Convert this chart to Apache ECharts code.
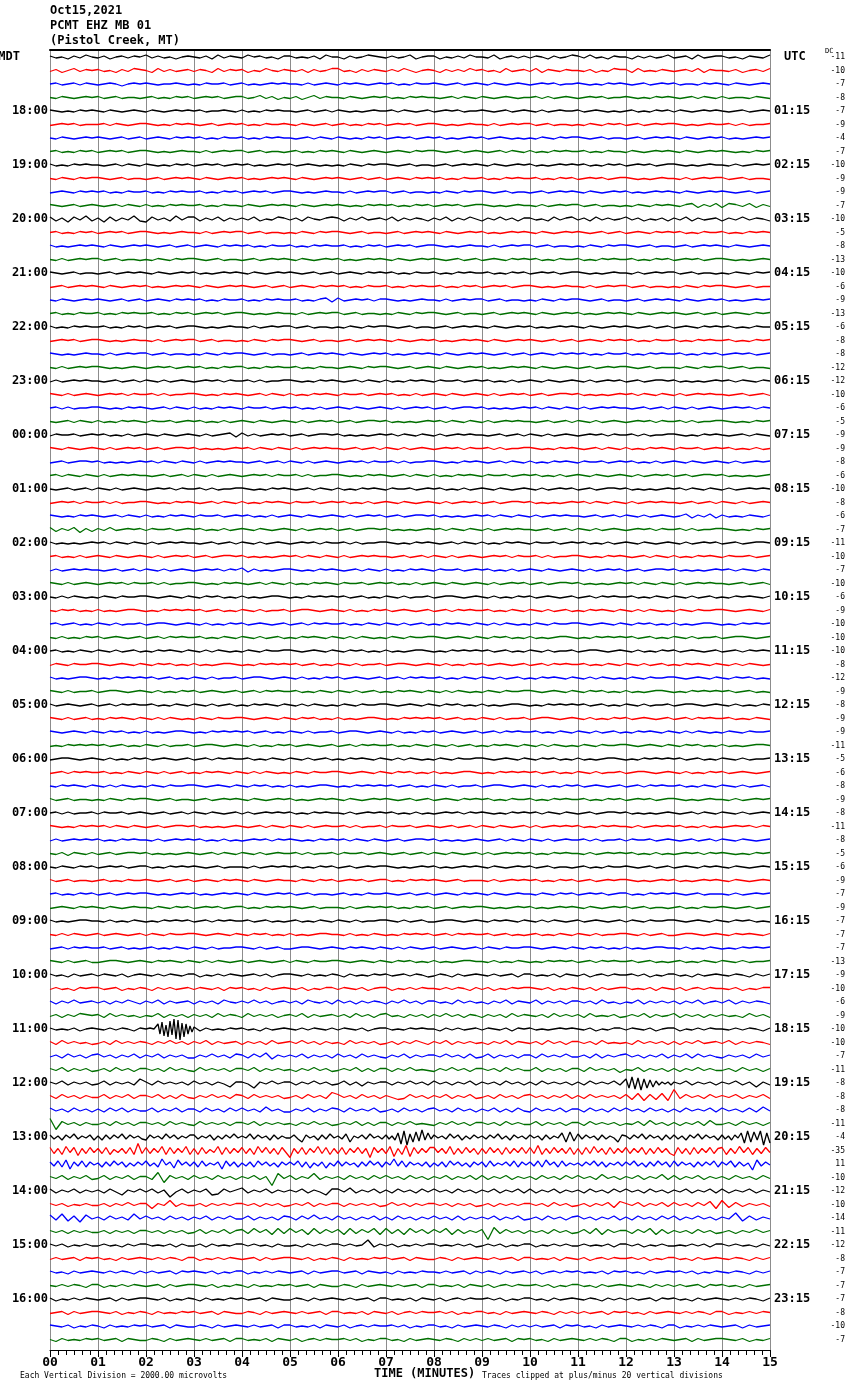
<!DOCTYPE html>
<html><head><meta charset="utf-8">
<script src="https://cdn.jsdelivr.net/npm/echarts@6/dist/echarts.min.js"></script>
<style>html,body{margin:0;padding:0;background:#fff}#c{width:850px;height:1390px}</style>
</head><body><div id="c"></div>
<script>
// ---- data ----
const minuteLabels = ['00','01','02','03','04','05','06','07','08','09','10','11','12','13','14','15'];
const mdtLabels = ['MDT','18:00','19:00','20:00','21:00','22:00','23:00','00:00','01:00','02:00','03:00','04:00','05:00','06:00','07:00','08:00','09:00','10:00','11:00','12:00','13:00','14:00','15:00','16:00'];
const utcLabels = ['UTC','01:15','02:15','03:15','04:15','05:15','06:15','07:15','08:15','09:15','10:15','11:15','12:15','13:15','14:15','15:15','16:15','17:15','18:15','19:15','20:15','21:15','22:15','23:15'];
const dcValues = [-11,-10,-7,-8,-7,-9,-4,-7,-10,-9,-9,-7,-10,-5,-8,-13,-10,-6,-9,-13,-6,-8,-8,-12,-12,-10,-6,-5,-9,-9,-8,-6,-10,-8,-6,-7,-11,-10,-7,-10,-6,-9,-10,-10,-10,-8,-12,-9,-8,-9,-9,-11,-5,-6,-8,-9,-8,-11,-8,-5,-6,-9,-7,-9,-7,-7,-7,-13,-9,-10,-6,-9,-10,-10,-7,-11,-8,-8,-8,-11,-4,-35,11,-10,-12,-10,-14,-11,-12,-8,-7,-7,-7,-8,-10,-7];
const traceColors = ['#000000','#ff0000','#0000ff','#006f00'];
// one string per 15-min line; space-separated groups = one minute each;
// chars: 0-9 => +0..+9 px (up), a-m => -1..-13 px (down), A-C => +10..+12
const traces = [
"1a0b1a20 a1b01a10 2a1a0b01 0a1b2a10 a201a0b1 1a0a1b20 0b1a0210 a1a02b01 1b0a1a20 0a2b01a1 a10b1a02 1a2a0b10 0b1a1a02 a01b2a01 1a0b10a2",
"a1b02a10 1a0b1a21 0b2a1a01 a10b2a10 1b0a20a1 0a1b1a02 2a0b1a10 a1a20b01 0b1a1a20 1a0b2a01 a2b10a10 0a1b0a21 1b2a0a10 a01a2b10 0a1b01a2",
"01a01a10 a010b010 10a0010a 0a1001a0 1a0a0101 00a1a010 a1010a01 01a0a100 10a01a01 0a10a010 a0101a00 10a0a101 0a01a010 1a00a101 0a10a010",
"0a10a010 1a01a00a 01a0a101 a0101a01 1a02a1b0 a1b02a10 0a10a010 1a0a1010 0a01a10a 10a010a0 01a1a010 a0101a00 10a0a101 0a01a10a 1a00a10a",
"10a0a101 0a10a010 a10a0101 01a0010a 1a0a1010 0a01a01a 10a0a010 01a10a01 a0101a00 10a01a01 0a1a0100 1a010a0a 01a0a101 a10a0101 0a01a010",
"a0101a00 01a10a01 10a0a101 0a01a010 1a0a1001 0a10a01a 01a0a101 a0101a01 10a0a010 0a1a0101 1a01a00a 0a10a101 a01a0101 10a0a010 01a1a001",
"0a10a010 10a01a01 a010a101 01a0a100 1a0a1010 0a01a10a 10a0a101 a0101a01 01a0a010 1a010a0a 0a10a101 10a01a00 a01a0101 0a10a010 1a0a0101",
"01a0a101 a0101a01 10a0a010 0a1a0101 1a01a00a 01a0a101 0a10a010 a010a101 10a01a01 0a01a10a 1a0a1010 01a0a100 a10a0101 0a10a010 10a0a101",
"1a0a1010 0a01a10a 10a0a101 a0101a01 01a0a010 1a010a0a 0a10a101 10a01a00 a01a0101 0a10a010 1a0a0101 01a0a101 a0101a01 10a0a010 0a1a0101",
"0a10a101 10a01a00 a01a0101 0a10a010 1a0a0101 0a10a010 10a01a01 a010a101 01a0a100 1a0a1010 01a0a101 a0101a01 10a0a010 0a1a0101 1a01a00a",
"a010a101 01a0a100 1a0a1010 01a0a101 a0101a01 10a0a010 0a1a0101 1a01a00a 0a10a101 10a01a00 a01a0101 0a10a010 1a0a0101 0a10a010 10a01a01",
"10a01a01 0a01a10a 1a0a1010 01a0a100 a10a0101 0a10a010 10a0a101 01a0a101 a0101a01 10a0a010 0a1a0101 1a01a00a 0a10a101 0a12b1a2 b21a2b1a",
"2b1c2a3b 1c2b1a3b c2a1b3a2 2b1a2b1a 1a2b0a21 a1b20a12 1b1a2a01 a2b1a10b 1a2b1a20 b1a2a1b1 1a0b2a12 a1b2a1a0 2a1b0a1b 1a2b1a01 b1a2a10b",
"01a0a101 a0101a01 10a0a010 0a1a0101 1a01a00a 0a10a101 10a01a00 a01a0101 0a10a010 1a0a0101 0a10a010 10a01a01 a010a101 01a0a100 1a0a1010",
"1a0a0101 0a10a010 10a01a01 a010a101 01a0a100 1a0a1010 01a0a101 a0101a01 10a0a010 0a1a0101 1a01a00a 0a10a101 10a01a00 a01a0101 0a10a010",
"0a1a0101 1a01a00a 0a10a101 10a01a00 a01a0101 0a10a010 1a0a0101 0a10a010 10a01a01 a010a101 01a0a100 1a0a1010 01a0a101 a0101a01 10a0a010",
"10a01a00 a01a0101 0a10a010 1a0a0101 0a10a010 10a01a01 a010a101 01a0a100 1a0a1010 01a0a101 a0101a01 10a0a010 0a1a0101 1a01a00a 0a10a101",
"a01a0101 0a10a010 1a0a0101 0a10a010 10a01a01 a010a101 01a0a100 1a0a1010 01a0a101 a0101a01 10a0a010 0a1a0101 1a01a00a 0a10a101 10a01a00",
"0a10a010 10a01a01 a010a101 01a0a100 1a0a1010 01a0a12b 2a0101a1 10a0a010 0a1a0101 1a01a00a 0a10a101 10a01a00 a01a0101 0a10a010 1a0a0101",
"01a0a100 1a0a1010 01a0a101 a0101a01 10a0a010 0a1a0101 1a01a00a 0a10a101 10a01a00 a01a0101 0a10a010 1a0a0101 0a10a010 10a01a01 a010a101",
"1a0a1010 01a0a101 a0101a01 10a0a010 0a1a0101 1a01a00a 0a10a101 10a01a00 a01a0101 0a10a010 1a0a0101 0a10a010 10a01a01 a010a101 01a0a100",
"a0101a01 10a0a010 0a1a0101 1a01a00a 0a10a101 10a01a00 a01a0101 0a10a010 1a0a0101 0a10a010 10a01a01 a010a101 01a0a100 1a0a1010 01a0a101",
"10a0a010 0a1a0101 1a01a00a 0a10a101 10a01a00 a01a0101 0a10a010 1a0a0101 0a10a010 10a01a01 a010a101 01a0a100 1a0a1010 01a0a101 a0101a01",
"0a1a0101 10a0a010 a0101a01 01a0a101 1a0a1010 01a0a100 a010a101 10a01a01 0a10a010 1a0a0101 0a10a010 a01a0101 10a01a00 0a10a101 1a01a00a",
"a1a01010 0a01a01a 10a1a010 a0101a10 01a1a001 10a0a101 0a01a10a 1a0a1010 a1001a01 01a0a1a0 10a10a01 0a1a0101 a01a0110 1a0a0a01 01a10a10",
"10a1a010 a0101a10 01a1a001 10a0a101 0a01a10a 1a0a1010 a1001a01 01a0a1a0 10a10a01 0a1a0101 a01a0110 1a0a0a01 01a10a10 a1a01010 0a01a01a",
"01a1a001 10a0a101 0a01a10a 1a0a1010 a1001a01 01a0a1a0 10a10a01 0a1a0101 a01a0110 1a0a0a01 01a10a10 a1a01010 0a01a01a 10a1a010 a0101a10",
"0a01a10a 1a0a1010 a1001a01 01a0a1a0 10a10a01 0a1a0101 a01a0110 1a0a0a01 01a10a10 a1a01010 0a01a01a 10a1a010 a0101a10 01a1a001 10a0a101",
"a1001a01 01a0a1a0 10a10a01 0a1a012b 2a1a0101 a01a0110 1a0a0a01 01a10a10 a1a01010 0a01a01a 10a1a010 a0101a10 01a1a001 10a0a101 0a01a10a",
"10a10a01 0a1a0101 a01a0110 1a0a0a01 01a10a10 a1a01010 0a01a01a 10a1a010 a0101a10 01a1a001 10a0a101 0a01a10a 1a0a1010 a1001a01 01a0a1a0",
"a01a0110 1a0a0a01 01a10a10 a1a01010 0a01a01a 10a1a010 a0101a10 01a1a001 10a0a101 0a01a10a 1a0a1010 a1001a01 01a0a1a0 10a10a01 0a1a0101",
"01a10a10 a1a01010 0a01a01a 10a1a010 a0101a10 01a1a001 10a0a101 0a01a10a 1a0a1010 a1001a01 01a0a1a0 10a10a01 0a1a0101 a01a0110 1a0a0a01",
"0a01a01a 10a1a010 a0101a10 01a1a001 10a0a101 0a01a10a 1a0a1010 a1001a01 01a0a1a0 10a10a01 0a1a0101 a01a0110 1a0a0a01 01a10a10 a1a01010",
"a0101a10 01a1a001 10a0a101 0a01a10a 1a0a1010 a1001a01 01a0a1a0 10a10a01 0a1a0101 a01a0110 1a0a0a01 01a10a10 a1a01010 0a01a01a 10a1a010",
"10a0a101 0a01a10a 1a0a1010 a1001a01 01a0a1a0 10a10a01 0a1a0101 a01a0110 1a0a0a01 01a10a10 a1a01010 0a01a01a 10a1a010 a02b1a2b 1a0a10a1",
"2b1a2c1b 1a2a0101 a1001a01 01a0a1a0 10a10a01 0a1a0101 a01a0110 1a0a0a01 01a10a10 a1a01010 0a01a01a 10a1a010 a0101a10 01a1a001 10a0a101",
"1a0a0a01 01a10a10 a1a01010 0a01a01a 10a1a010 a0101a10 01a1a001 10a0a101 0a01a10a 1a0a1010 a1001a01 01a0a1a0 10a10a01 0a1a0101 a01a0110",
"01a0a1a0 10a10a01 0a1a0101 a01a0110 1a0a0a01 01a10a10 a1a01010 0a01a01a 10a1a010 a0101a10 01a1a001 10a0a101 0a01a10a 1a0a1010 a1001a01",
"a1a01010 0a01a01a 10a1a010 a0101a10 2b1a0a01 10a0a101 0a01a10a 1a0a1010 a1001a01 01a0a1a0 10a10a01 0a1a0101 a01a0110 1a0a0a01 01a10a10",
"10a1a010 a0101a10 01a1a001 10a0a101 0a01a10a 1a0a1010 a1001a01 01a0a1a0 10a10a01 0a1a0101 a01a0110 1a0a0a01 01a10a10 a1a01010 0a01a01a",
"0a1a10a0 a10a1001 10a010a1 0a101a0a 1a0a0110 a0a10101 01a01a0a 10a1a001 a0110a01 0a1a0a10 1a010a01 a01a1010 01a0a10a 10a1a01a 0a1010a1",
"0a101a0a 1a0a0110 a0a10101 01a01a0a 10a1a001 a0110a01 0a1a0a10 1a010a01 a01a1010 01a0a10a 10a1a01a 0a1010a1 0a1a10a0 a10a1001 10a010a1",
"01a01a0a 10a1a001 a0110a01 0a1a0a10 1a010a01 a01a1010 01a0a10a 10a1a01a 0a1010a1 0a1a10a0 a10a1001 10a010a1 0a101a0a 1a0a0110 a0a10101",
"0a1a0a10 1a010a01 a01a1010 01a0a10a 10a1a01a 0a1010a1 0a1a10a0 a10a1001 10a010a1 0a101a0a 1a0a0110 a0a10101 01a01a0a 10a1a001 a0110a01",
"01a0a10a 10a1a01a 0a1010a1 0a1a10a0 a10a1001 10a010a1 0a101a0a 1a0a0110 a0a10101 01a01a0a 10a1a001 a0110a01 0a1a0a10 1a010a01 a01a1010",
"a10a1001 10a010a1 0a101a0a 1a0a0110 a0a10101 01a01a0a 10a1a001 a0110a01 0a1a0a10 1a010a01 a01a1010 01a0a10a 10a1a01a 0a1010a1 0a1a10a0",
"1a0a0110 a0a10101 01a01a0a 10a1a001 a0110a01 0a1a0a10 1a010a01 a01a1010 01a0a10a 10a1a01a 0a1010a1 0a1a10a0 a10a1001 10a010a1 0a101a0a",
"10a1a001 a0110a01 0a1a0a10 1a010a01 a01a1010 01a0a10a 10a1a01a 0a1010a1 0a1a10a0 a10a1001 10a010a1 0a101a0a 1a0a0110 a0a10101 01a01a0a",
"1a010a01 a01a1010 01a0a10a 10a1a01a 0a1010a1 0a1a10a0 a10a1001 10a010a1 0a101a0a 1a0a0110 a0a10101 01a01a0a 10a1a001 a0110a01 0a1a0a10",
"10a1a01a 0a1010a1 0a1a10a0 a10a1001 10a010a1 0a101a0a 1a0a0110 a0a10101 01a01a0a 10a1a001 a0110a01 0a1a0a10 1a010a01 a01a1010 01a0a10a",
"10a010a1 0a101a0a 1a0a0110 a0a10101 01a01a0a 10a1a001 a0110a01 0a1a0a10 1a010a01 a01a1010 01a0a10a 10a1a01a 0a1010a1 0a1a10a0 a10a1001",
"a0a10101 01a01a0a 10a1a001 a0110a01 0a1a0a10 1a010a01 a01a1010 01a0a10a 10a1a01a 0a1010a1 0a1a10a0 a10a1001 10a010a1 0a101a0a 1a0a0110",
"a0110a01 0a1a0a10 1a010a01 a01a1010 01a0a10a 10a1a01a 0a1010a1 0a1a10a0 a10a1001 10a010a1 0a101a0a 1a0a0110 a0a10101 01a01a0a 10a1a001",
"a01a1010 01a0a10a 10a1a01a 0a1010a1 0a1a10a0 a10a1001 10a010a1 0a101a0a 1a0a0110 a0a10101 01a01a0a 10a1a001 a0110a01 0a1a0a10 1a010a01",
"0a1010a1 0a1a10a0 a10a1001 10a010a1 0a101a0a 1a0a0110 a0a10101 01a01a0a 10a1a001 a0110a01 0a1a0a10 1a010a01 a01a1010 01a0a10a 10a1a01a",
"1a01a00a 0a10a101 10a01a00 a01a0101 0a10a010 1a0a0101 0a10a010 10a01a01 a010a101 01a0a100 1a0a1010 01a0a101 a0101a01 10a0a010 0a1a0101",
"01a1a001 a1001a01 0a01a01a 10a10a01 a1a01010 1a0a1010 0a1a0101 01a0a1a0 a0101a10 10a0a101 01a10a10 a01a0110 1a0a0a01 0a01a10a 10a1a010",
"10a0a101 01a10a10 a01a0110 1a0a0a01 0a01a10a 10a1a010 01a1a001 a1001a01 0a01a01a 10a10a01 a1a01010 1a0a1010 0a1a0101 01a0a1a0 a0101a10",
"a1a01010 1a0a1010 0a1a0101 01a0a1a0 a0101a10 10a0a101 01a10a10 a01a0110 1a0a0a01 0a01a10a 10a1a010 01a1a001 a1001a01 0a01a01a 10a10a01",
"0a1b10a1 a01a0110 1a0a0a01 0a01a10a 10a1a010 01a1a001 a1001a01 0a01a01a 10a10a01 a1a01010 1a0a1010 0a1a0101 01a0a1a0 a0101a10 10a0a101",
"0a10a101 a0101a01 1a0a1010 10a01a00 0a1a0101 01a0a101 a01a0101 10a0a010 1a0a0101 0a10a010 1a01a00a 01a0a100 10a01a01 a010a101 0a10a010",
"1a01a00a 01a0a100 10a01a01 a010a101 0a10a010 0a10a101 a0101a01 1a0a1010 10a01a00 0a1a0101 01a0a101 a01a0101 10a0a010 1a0a0101 0a10a010",
"01a0a101 a01a0101 10a0a010 1a0a0101 0a10a010 1a01a00a 01a0a100 10a01a01 a010a101 0a10a010 0a10a101 a0101a01 1a0a1010 10a01a00 0a1a0101",
"a010a101 0a10a010 0a10a101 a0101a01 1a0a1010 10a01a00 0a1a0101 01a0a101 a01a0101 10a0a010 1a0a0101 0a10a010 1a01a00a 01a0a100 10a01a01",
"1a0a0110 0a1a0a10 a0a10101 a01a1010 01a01a0a 01a0a10a 10a1a001 10a1a01a a0110a01 0a1010a1 0a1a10a0 1a010a01 a10a1001 10a010a1 0a101a0a",
"0a1a10a0 1a010a01 a10a1001 10a010a1 0a101a0a 1a0a0110 0a1a0a10 a0a10101 a01a1010 01a01a0a 01a0a10a 10a1a001 10a1a01a a0110a01 0a1010a1",
"a01a1010 01a01a0a 01a0a10a 10a1a001 10a1a01a a0110a01 0a1010a1 0a1a10a0 1a010a01 a10a1001 10a010a1 0a101a0a 1a0a0110 0a1a0a10 a0a10101",
"10a1a01a a0110a01 0a1010a1 0a1a10a0 1a010a01 a10a1001 10a010a1 0a101a0a 1a0a0110 0a1a0a10 a0a10101 a01a1010 01a01a0a 01a0a10a 10a1a001",
"1a0b1a01 a10a1b01 0a1a10a1 1b0a1a10 a01a1b01 10a1a0a1 0b1a0a10 1a01a10b a10b1a01 0a1a01b1 1a0a1b10 a1b01a10 01a1b0a1 1a0b1a01 0a10b1a1",
"a1a0b101 1a01b0a1 0b1a1a01 a10a1b10 1a0b1a01 0a1b0a11 a10a1b01 1b0a1a10 0a1a10b1 a1b0a101 10a1b0a1 0a1b1a01 1a0a1b10 a1b01a10 0a1b0a11",
"1b1a2a01 a1b1a20b 1a2b1a01 b1a1b20a 1a2a1b01 a1b20a1b 2a1b1a10 b1a2a1b1 1a0b2a1a 0b1a2b10 a2b1a1b1 1a1b2a0b 0a2b1a1a 1b1a2b01 a2b1a10b",
"a1b1a210 1b2a1a0b 0a2b1a1b 1a1b2a10 b2a1a1b0 1a2b1a01 a1b2a1b1 2a0b1a1b 1a2a1b10 b1a1b2a1 0a1b2a1a 1b2a0a1b a1a2b1a0 2b1a1b1a 1a0b2a1b",
"1a0a1b01 0a1a10b1 0a1a015e7g4h8fAj9k6h5e3c 2b1a0a10 1a0b1a01 0a1a10a1 a10a1b01 1a0a1010 0b1a1a01 a10a1b10 1a0a0101 0a1b0a11 a10a1b01 1b0a1a10 0a1a10b1",
"1b2a1a0b a1b2a1a1 0b1a2a1b 1a2b1a01 b1a1b2a0 1a2a1b1a 0b2a1a1b a1b1a20b 1a2b1a1a 0b1a2b10 a1b2a1b1 1a1b2a0a 0b2a1a1b 1b1a2a01 a2b1a10b",
"a1b2a1b1 2a1b1a2b 1a2b1a1b b1a2a1b2 1b2a3c1a 1a2b1a1b 2a1b2a1a b1a2b1a1 1a2a1b2b a2b1a1b1 1b2a1a2a a1b2b1a1 2a1b1a2b 1a2b2a1a b1a1b2a1",
"1a2b1a1b a1b2a1b1 1a1b2a1a b2a1a1b1 1a2b1a1a 0b1a2a1b a1a2b1b1 1b1a2a0a b1a2a1b1 1a1b2a1a a2b1a1b1 1b2a1a1c 0a2b1a1b 1b1a2a1a a1b2a1b1",
"1a2b1a1b a2b1a1b4 1b2a1a1b 2a1b1ad1 1ae1a2a1 1b1a2a1b a2b1c1a1 1b1a2a1b 2a1b1a2b 1a1b2a1b 1b2a1a1b 1b2a1a2b 4e6f5g4e3d2b1a1b 1a2b1a1b 1a2b1d1b",
"1b2a1b1a a2b1a2b1 1a2b1b2a b1a2a1b2 1b2a1a1b a1b2a1b4 2a1b2a1b 1acb2a1b 1a2b1a2b a1b2a1b1 2a1b1a2b 1b2a1a1b 2c3d2c3d 7b2a1b2a 1a2b1a2b",
"2a1b2a1b 1b2a2b1a a2b1a2b1 1b2a1b2a 2a1b3a1b b1a2b1a2 1b2a1a2b a1b2a1b1 2a1b2a1b 1a2b1b2a b2a1a2b1 1b2a1b2a 2a1b2a1b 1b2a1a2b 2a1b2b3a",
"5f2a1b1a a1b2a1b1 1a1b2a1a b2a1a1b1 1a2b1a1a 0b1a2a1b a1a2b1b1 1b1a2a0a b1a2a1b1 1a1b2a1a a2b1a1b1 1b2a1a1b 0a2b3a1b 1b1a2b3a a1b2a1b1",
"2b1c2a3b1a2c 1c2b2a3b2a1b c2a1b3a2b1a2 2b1a2c1b2a3a 1a3b2a1c2b1a a2be2a1c2b3a 1b3e1a2b3a1b 2b1c4g6h3e5d7c4b 2a1b3a2c1b2a 1b2a3b1c2a1b 2a1c2b1a4e5d 3b2a1c2b1ae2 1b2a3b2a1c2b 2b1c2a3b2a1c 2b1c2a4f6e5c6h4f",
"3c2d4b3e2c3b 2c3d1b2c3d7c 3c2b4d3c2b4d 2d3c1b4d3c2b 3c2d4b3c2d3b g2c3d2b4c3d2 c3d2b3c2g3b2 c4f2d5f3c2b3 3b2c4d2c3b2d 2c3b2d3c2b3c 3c5d2c3b2c3d 2d3c4b2d3c2b 3c2b3d2c3b2c e3c2d3c2b3c2 3d2c4b3d2c3b",
"2b3c4e2b3c2a 1c2b3a2c1b2a 3b1c5a2d4a2b 2c3b1a2e3b2c 1b2c3a2b1c2a 2a3c2d1b2d1b 3b2a1c2b3a2c 2a5b3c2a1b2c 1b2c3a2b1c2a 2c3b1a2b3c2a 2b3c4a2c3b1a 1b2a3b2c1a2b 2a3b1c2b3a2c 3b2a1c2b2a3c 2a3c2b1f4b2a",
"1a2b1a2b a2b1a2b1 1b5e2a1b 2a1b2a1b 1a2b1h4a 2b1a4b1a 1b2a1b2a 2a1b2a1b 1a2b1a2b 2b1a2b1a 1b2a1b2a 2a1b3a1b 1a2b1a3b 2b1a2b1a 1b2a1b2a",
"2b1a2b1a 1b2ad1a2 a2b1fa2b 1a2dc2a1 3b1a2b1a 1a2b1ad2 2a3b1a2b 1b2a1b2a 2a1b2a1b 1a2b1a2b 2b1a2b1a 1b2a1b2a 2a1b2a1b 1a2b1a2b 2b1a2b1a",
"1a1b0a1a a1b1a2a1 1d1a4b1a a1b1a1a1 1a1b1a1b a1a2b1a1 1b1a1a1b a2a1b1a1 1a1b1a1b a1b1a1a1 1a1b2a1b a1b1a2c3 1a2b1a2b 2a1b2a3d 4c2b1a1b",
"3b4c2d3a 1b2a1b4a 2a1b2a1b 1a2b1a2a a2b1a1b2 1b2a3a1b 2a1b1a2b 1b2a1b1a 2a1b2b1a 1a2b1a2b a1b2a1b1 2a1b1a2b 1b2a1b2a 2b1a2a1b 1a5c2b1a",
"1a1b1a1a a1b1a1b1 1a1b1a1b a2b1a2b1 2b3a2c3b 3a2c3b2a 2c3b2a3c 3b2c3a2b 2a3c2b1a 2h4b2a1b 1a1b2a1b a2b3c2a1 1b2a3c2b 1a1b2a1b a1b1a2a1",
"1a1b0a1a a1a0b1a1 1a0a1b1a a1b1a0a1 1a1a0b1a a0b1a1a1 1a1a05b1 a1b0a1a1 1a0a1a1b a1a1b0a1 1b0a1a1a a1a0a1b1 1a1b0a1a a0a1a1b1 1a1a0b1a",
"a1a01b10 1a0b1a01 0a1a10b1 1b0a1a10 a01b1a01 10a1b0a1 0b1a0a10 1a01b10a a10b1a01 0a1a01b1 1a0a1b10 a1b01a10 01a1b0a1 1a0b1a01 0a10b1a1",
"1a0b1a01 0a1a10b1 a1a01b10 10a1b0a1 1b0a1a10 a01b1a01 1a01b10a 0b1a0a10 0a1a01b1 a10b1a01 a1b01a10 1a0a1b10 1a0b1a01 01a1b0a1 0a10b1a1",
"0a1a10b1 1b0a1a10 a01b1a01 10a1b0a1 0b1a0a10 1a01b10a a10b1a01 0a1a01b1 1a0a1b10 a1b01a10 01a1b0a1 1a0b1a01 0a10b1a1 a1a01b10 1a0b1a01",
"1b0a1a10 a01b1a01 10a1b0a1 0b1a0a10 1a01b10a a10b1a01 0a1a01b1 1a0a1b10 a1b01a10 01a1b0a1 1a0b1a01 0a10b1a1 a1a01b10 1a0b1a01 0a1a10b1",
"a01b1a01 10a1b0a1 0b1a0a10 1a01b10a a10b1a01 0a1a01b1 1a0a1b10 a1b01a10 01a1b0a1 1a0b1a01 0a10b1a1 a1a01b10 1a0b1a01 0a1a10b1 1b0a1a10",
"10a1b0a1 0b1a0a10 1a01b10a a10b1a01 0a1a01b1 1a0a1b10 a1b01a10 01a1b0a1 1a0b1a01 0a10b1a1 a1a01b10 1a0b1a01 0a1a10b1 1b0a1a10 a01b1a01",
"0b1a0a10 1a01b10a a10b1a01 0a1a01b1 1a0a1b10 a1b01a10 01a1b0a1 1a0b1a01 0a10b1a1 a1a01b10 1a0b1a01 0a1a10b1 1b0a1a10 a01b1a01 10a1b0a1"
];

// ---- drawing ----
const PX_PER_LINE = 13.5;           // vertical spacing between traces in px
const Y_MIN = -7 / PX_PER_LINE;     // top of frame
const Y_MAX = (traces.length - 1) + 10.5 / PX_PER_LINE; // bottom of frame
const MONO = '"DejaVu Sans Mono", "Liberation Mono", monospace';

function decode(ch) {
  const c = ch.charCodeAt(0);
  if (c >= 48 && c <= 57) return c - 48;
  if (c >= 97 && c <= 109) return -(c - 96);
  if (c >= 65 && c <= 67) return c - 55;
  return 0;
}

const series = traces.map((s, idx) => {
  const groups = s.trim().split(/\s+/);
  const pts = [];
  groups.forEach((gs, g) => {
    const n = gs.length;
    const last = g === groups.length - 1;
    for (let j = 0; j < n; j++) {
      const x = g + (last ? j / (n - 1) : j / n);
      pts.push([x, idx - decode(gs[j]) / PX_PER_LINE]);
    }
  });
  return {
    type: 'line', data: pts, symbol: 'none', silent: true, animation: false,
    lineStyle: { color: traceColors[idx % 4], width: 1.3 }, z: 3, clip: false
  };
});

const chart = echarts.init(document.getElementById('c'), null, { renderer: 'canvas' });
const hourTicks = mdtLabels.map((_, k) => k * 4);
const allTicks = traces.map((_, i) => i);

chart.setOption({
  animation: false,
  backgroundColor: '#ffffff',
  grid: { left: 50, right: 80, top: 50, bottom: 40, containLabel: false, outerBoundsMode: 'none' },
  xAxis: [{
    type: 'value', min: 0, max: 15, interval: 1, position: 'bottom',
    axisLine: { show: true, onZero: false, lineStyle: { color: '#000', width: 1 } },
    axisTick: { show: true, length: 7, lineStyle: { color: '#000' } },
    minorTick: { show: true, splitNumber: 6, length: 5, lineStyle: { color: '#000' } },
    axisLabel: { margin: 6, color: '#000', fontFamily: MONO, fontWeight: 'bold', fontSize: 13,
      formatter: v => minuteLabels[Math.round(v)] },
    splitLine: { show: true, lineStyle: { color: '#8c8c8c', width: 1 } }
  }, {
    type: 'value', min: 0, max: 15, position: 'top',
    axisLine: { show: true, onZero: false, lineStyle: { color: '#000', width: 2 } },
    axisTick: { show: false }, minorTick: { show: false }, axisLabel: { show: false }, splitLine: { show: false }
  }],
  yAxis: [{
    type: 'value', inverse: true, min: Y_MIN, max: Y_MAX, position: 'left',
    axisLine: { show: true, onZero: false, lineStyle: { color: '#8c8c8c', width: 1 } },
    axisTick: { show: false }, splitLine: { show: false },
    axisLabel: {
      customValues: hourTicks, margin: 2, color: '#000', fontFamily: MONO, fontWeight: 'bold', fontSize: 12,
      formatter: v => { const k = Math.round(v / 4); return k === 0 ? '{m|' + mdtLabels[0] + '}' : mdtLabels[k]; },
      rich: { m: { padding: [0, 28, 0, 0], color: '#000', fontFamily: MONO, fontWeight: 'bold', fontSize: 12 } }
    }
  }, {
    type: 'value', inverse: true, min: Y_MIN, max: Y_MAX, position: 'right',
    axisLine: { show: true, onZero: false, lineStyle: { color: '#8c8c8c', width: 1 } },
    axisTick: { show: false }, splitLine: { show: false },
    axisLabel: {
      customValues: hourTicks, margin: 4, color: '#000', fontFamily: MONO, fontWeight: 'bold', fontSize: 12,
      formatter: v => { const k = Math.round(v / 4); return k === 0 ? '{u|' + utcLabels[0] + '}' : utcLabels[k]; },
      rich: { u: { padding: [0, 0, 0, 10], color: '#000', fontFamily: MONO, fontWeight: 'bold', fontSize: 12 } }
    }
  }, {
    type: 'value', inverse: true, min: Y_MIN, max: Y_MAX, position: 'right',
    axisLine: { show: false, onZero: false }, axisTick: { show: false }, splitLine: { show: false },
    axisLabel: {
      customValues: allTicks, margin: 75, align: 'right', color: '#000', fontFamily: MONO, fontSize: 8,
      formatter: v => String(dcValues[Math.round(v)])
    }
  }],
  series: series,
  graphic: [
    { type: 'text', left: 50, top: 5, style: { text: 'Oct15,2021', fill: '#000', font: 'bold 12px ' + MONO } },
    { type: 'text', left: 50, top: 20, style: { text: 'PCMT EHZ MB 01', fill: '#000', font: 'bold 12px ' + MONO } },
    { type: 'text', left: 50, top: 35, style: { text: '(Pistol Creek, MT)', fill: '#000', font: 'bold 12px ' + MONO } },
    { type: 'text', left: 825, top: 48, style: { text: 'DC', fill: '#000', font: '7px ' + MONO } },
    { type: 'text', left: 374, top: 1368, style: { text: 'TIME (MINUTES)', fill: '#000', font: 'bold 12px ' + MONO } },
    { type: 'text', left: 20, top: 1372, style: { text: 'Each Vertical Division = 2000.00 microvolts', fill: '#000', font: '8px ' + MONO } },
    { type: 'text', left: 482, top: 1372, style: { text: 'Traces clipped at plus/minus 20 vertical divisions', fill: '#000', font: '8px ' + MONO } }
  ]
});
</script>
</body></html>
